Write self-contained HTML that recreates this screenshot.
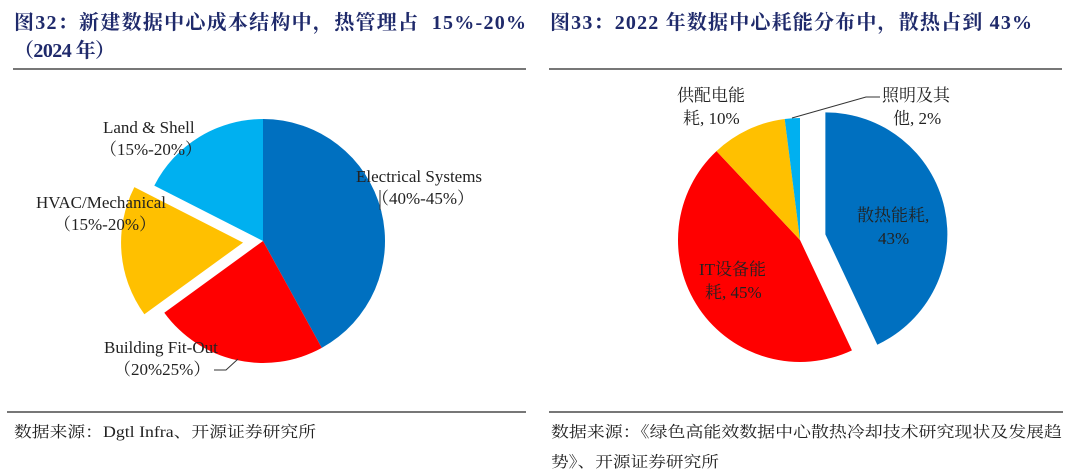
<!DOCTYPE html>
<html><head><meta charset="utf-8">
<style>
body{margin:0;width:1072px;height:474px;background:#fff;overflow:hidden;font-family:"Liberation Serif","Noto Serif CJK SC",serif;}
svg{position:absolute;left:0;top:0}
.t{font-family:"Liberation Serif","Noto Serif CJK SC",serif;font-weight:bold;fill:#1f2a6b;font-size:20px}
.l{font-family:"Liberation Serif","Noto Serif CJK SC",serif;font-size:17px;fill:#222}
.s{font-family:"Liberation Serif","Noto Serif CJK SC",serif;font-size:15.5px;fill:#222}
</style></head><body>
<svg id="c" width="1072" height="474" xmlns="http://www.w3.org/2000/svg">
<text class="t" x="14" y="29" textLength="512" lengthAdjust="spacing">图32：新建数据中心成本结构中，热管理占&#160;&#160;15%-20%</text>
<text class="t" x="14" y="57" textLength="101" lengthAdjust="spacing">（2024 年）</text>
<line x1="13" y1="69" x2="526" y2="69" stroke="#777" stroke-width="2"/>
<text class="t" x="550" y="29" textLength="482" lengthAdjust="spacing">图33：2022 年数据中心耗能分布中，散热占到 43%</text>
<line x1="549" y1="69" x2="1062" y2="69" stroke="#777" stroke-width="2"/>
<line x1="7" y1="412" x2="526" y2="412" stroke="#777" stroke-width="2"/>
<line x1="549" y1="412" x2="1063" y2="412" stroke="#777" stroke-width="2"/>
<text class="s" x="14" y="437" textLength="302" lengthAdjust="spacingAndGlyphs">数据来源：Dgtl Infra、开源证券研究所</text>
<text class="s" x="551" y="437" textLength="511" lengthAdjust="spacingAndGlyphs">数据来源：《绿色高能效数据中心散热冷却技术研究现状及发展趋</text>
<text class="s" x="551" y="467" textLength="168" lengthAdjust="spacingAndGlyphs">势》、开源证券研究所</text>
<g id="p1"></g><g id="p2"></g>
<line x1="380" y1="190" x2="380" y2="210" stroke="#333"/>
<polyline points="214,370 226,370 238,359" fill="none" stroke="#333"/>
<polyline points="792,118 866,97 880,97" fill="none" stroke="#333"/>
<text class="l" x="103" y="133">Land &amp; Shell</text>
<text class="l" x="100" y="155">（15%-20%）</text>
<text class="l" x="356" y="182">Electrical Systems</text>
<text class="l" x="372" y="204">（40%-45%）</text>
<text class="l" x="36" y="208">HVAC/Mechanical</text>
<text class="l" x="54" y="230">（15%-20%）</text>
<text class="l" x="104" y="353">Building Fit-Out</text>
<text class="l" x="114" y="375">（20%25%）</text>
<text class="l" x="677" y="101">供配电能</text>
<text class="l" x="683" y="124">耗, 10%</text>
<text class="l" x="882" y="101">照明及其</text>
<text class="l" x="893" y="124">他, 2%</text>
<text class="l" x="857" y="221">散热能耗,</text>
<text class="l" x="878" y="244">43%</text>
<text class="l" x="699" y="275">IT设备能</text>
<text class="l" x="705" y="298">耗, 45%</text>
</svg>
<script>
const leftCategories=["Electrical Systems","Building Fit-Out","HVAC/Mechanical","Land & Shell"];
const leftValues=[42,23,17.5,17.5];
const leftExplode=[0,0,1,0];
const rightCategories=["散热能耗","IT设备能耗","供配电能耗","照明及其他"];
const rightValues=[43,45,10,2];
const rightExplode=[1,0,0,0];
const colors=["#0070c0","#ff0000","#ffc000","#00b0f0"];
function pie(g,cats,vals,expl,cx,cy,r,off){
  const tot=vals.reduce((a,b)=>a+b,0);let a0=0;
  vals.forEach((v,i)=>{
    const a1=a0+v/tot*2*Math.PI,m=(a0+a1)/2;
    const ox=expl[i]?off*Math.sin(m):0,oy=expl[i]?-off*Math.cos(m):0;
    const x=cx+ox,y=cy+oy;
    const p=(a)=>[x+r*Math.sin(a),y-r*Math.cos(a)];
    const s=p(a0),e=p(a1);const large=(a1-a0)>Math.PI?1:0;
    const path=document.createElementNS("http://www.w3.org/2000/svg","path");
    path.setAttribute("d",`M${x},${y}L${s[0]},${s[1]}A${r},${r} 0 ${large} 1 ${e[0]},${e[1]}Z`);
    path.setAttribute("fill",colors[i]);
    
    
    g.appendChild(path);a0=a1;
  });
}
pie(document.getElementById("p1"),leftCategories,leftValues,leftExplode,263,241,122,20);
pie(document.getElementById("p2"),rightCategories,rightValues,rightExplode,800,240,122,26);
</script>
</body></html>
